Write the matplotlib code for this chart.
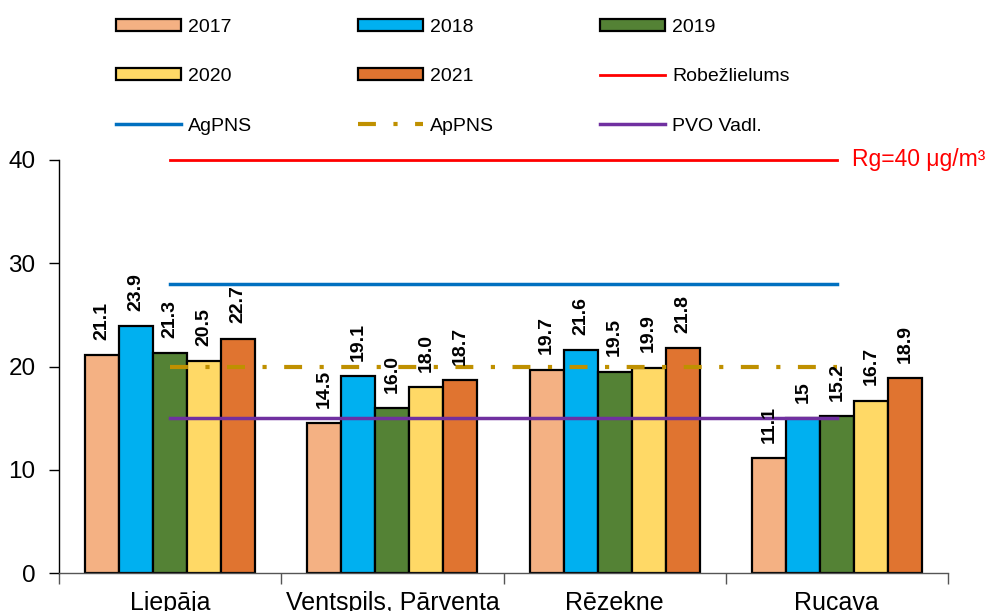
import matplotlib
matplotlib.use("Agg")
import matplotlib.pyplot as plt
from matplotlib.patches import Patch
from matplotlib.lines import Line2D
import numpy as np

plt.rcParams['font.family'] = ['Liberation Sans', 'DejaVu Sans']

categories = ["Liepāja", "Ventspils, Pārventa", "Rēzekne", "Rucava"]
years = ["2017", "2018", "2019", "2020", "2021"]
v2017 = [21.1, 14.5, 19.7, 11.1]
v2018 = [23.9, 19.1, 21.6, 15.0]
v2019 = [21.3, 16.0, 19.5, 15.2]
v2020 = [20.5, 18.0, 19.9, 16.7]
v2021 = [22.7, 18.7, 21.8, 18.9]
labels2017 = ["21.1", "14.5", "19.7", "11.1"]
labels2018 = ["23.9", "19.1", "21.6", "15"]
labels2019 = ["21.3", "16.0", "19.5", "15.2"]
labels2020 = ["20.5", "18.0", "19.9", "16.7"]
labels2021 = ["22.7", "18.7", "21.8", "18.9"]

robezlielums = 40
agpns = 28
appns = 20
pvo = 15
yticks = [0, 10, 20, 30, 40]

series = [v2017, v2018, v2019, v2020, v2021]
series_labels = [labels2017, labels2018, labels2019, labels2020, labels2021]
colors = ["#F4B183", "#00B0F0", "#548235", "#FFD966", "#E07430"]

fig = plt.figure(figsize=(9.93, 6.11), dpi=100)
ax = fig.add_axes([59/993, 38/611, 889/993, 413/611])

x = np.arange(len(categories))
bw = 0.153
for i, (vals, labs, col, yr) in enumerate(zip(series, series_labels, colors, years)):
    pos = x + (i - 2) * bw
    ax.bar(pos, vals, width=bw, color=col, edgecolor="black",
           linewidth=1.6, zorder=2, label=yr)
    for p, v, lab in zip(pos, vals, labs):
        ax.annotate(lab, (p, v), xytext=(0, 11), textcoords="offset points",
                    rotation=90, ha="center", va="bottom", fontsize=14,
                    fontweight="bold", color="black", zorder=4)

xl = [x[0], x[-1]]
l_red, = ax.plot(xl, [robezlielums]*2, color="#FF0000", lw=2.0, zorder=3, clip_on=False)
l_blue, = ax.plot(xl, [agpns]*2, color="#0070C0", lw=2.5, zorder=3)
l_gold, = ax.plot(xl, [appns]*2, color="#BF9000", lw=3.0, zorder=3,
                  linestyle=(0, (4.3, 4.2, 1, 4.2)))
l_purple, = ax.plot(xl, [pvo]*2, color="#7030A0", lw=2.5, zorder=3)

ax.text(3.07, robezlielums, "Rg=40 μg/m³", color="#FF0000", fontsize=16.5,
        va="center", ha="left", clip_on=False)

ax.set_xlim(-0.5, 3.5)
ax.set_ylim(0, 40)
ax.set_yticks(yticks)
ax.tick_params(axis="y", labelsize=17.5, length=7, width=1, direction="out", pad=10)
ax.set_xticks(x)
ax.set_xticklabels(categories, fontsize=18)
ax.set_xticks([-0.5, 0.5, 1.5, 2.5, 3.5], minor=True)
ax.tick_params(axis="x", which="major", length=0, pad=13)
ax.tick_params(axis="x", which="minor", length=8, width=1, color="#555555")
for s in ["top", "right"]:
    ax.spines[s].set_visible(False)
ax.spines["left"].set_linewidth(1)
ax.spines["bottom"].set_color("#555555")
ax.spines["bottom"].set_linewidth(1)

def ph(c):
    return Patch(facecolor=c, edgecolor="black", linewidth=1.6)

h = [ph(colors[0]), ph(colors[3]), l_blue,
     ph(colors[1]), ph(colors[4]), l_gold,
     ph(colors[2]), l_red, l_purple]
lbl = ["2017", "2020", "AgPNS", "2018", "2021", "ApPNS", "2019", "Robežlielums", "PVO Vadl."]
fig.legend(h, lbl, ncol=3, loc="upper left", bbox_to_anchor=(116/993, 1 - 19/611),
           bbox_transform=fig.transFigure, frameon=False, fontsize=14,
           handlelength=3.35, handleheight=0.57, handletextpad=0.36,
           columnspacing=5.45, labelspacing=1.66, borderpad=0, borderaxespad=0)

fig.savefig("out.png", dpi=100)
